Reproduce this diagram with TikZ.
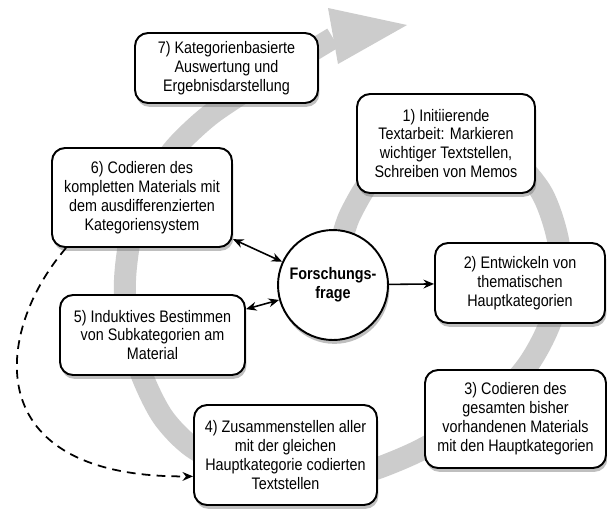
\documentclass[tikz,border=0pt]{standalone}
\usepackage{fontspec}
\setmainfont{Liberation Sans}[FakeStretch=0.86]
\usetikzlibrary{arrows.meta,shadows}

\begin{document}
\begin{tikzpicture}[x=0.02cm,y=-0.02cm,
    font=\fontsize{9.5}{10.8}\selectfont,
    schatten/.style={drop shadow={shadow xshift=0.8pt, shadow yshift=-2.2pt, opacity=0.5}},
    stepbox/.style={draw, line width=1.1pt, rounded corners=0.26cm, fill=white, align=center, inner sep=2pt, schatten},
    frageknoten/.style={draw, circle, line width=1.1pt, fill=white, align=center, minimum size=2.2cm, inner sep=0pt, font=\fontsize{9.5}{10.8}\selectfont\bfseries, schatten},
    link/.style={line width=0.9pt, -{Stealth[length=6pt,width=5pt]}},
    beide/.style={line width=0.9pt, {Stealth[length=6pt,width=5pt]}-{Stealth[length=6pt,width=5pt]}},
    band/.style={line width=0.44cm, gray!40}]

    \fill[white] (0,0) rectangle (607,508);
    \useasboundingbox (0,0) rectangle (607,508);

    % grauer Spiralpfeil
    \draw[band] plot[smooth] coordinates {(338,255) (350,215) (380,170) (440,140) (500,150) (540,190) (558,240) (560,290) (545,335) (520,375) (470,420) (410,455) (340,478) (260,470) (200,452) (165,420) (143,378) (128,330) (125,280) (132,230) (150,185) (175,148) (210,115) (255,85) (300,58) (333,38)};
    \fill[gray!40] (328,8) -- (407,25) -- (338,64) -- cycle;

    \node[stepbox, minimum width=3.66cm, minimum height=1.40cm] (s7) at (226.5,68) {7) Kategorienbasierte\\Auswertung und\\Ergebnisdarstellung};
    \node[stepbox, minimum width=3.56cm, minimum height=1.98cm] (s1) at (446,143.5) {1) Initiierende\\Textarbeit: Markieren\\wichtiger Textstellen,\\Schreiben von Memos};
    \node[stepbox, minimum width=3.60cm, minimum height=1.98cm] (s6) at (142,197.5) {6) Codieren des\\kompletten Materials mit\\dem ausdifferenzierten\\Kategoriensystem};
    \node[frageknoten] (frage) at (333,285) {Forschungs-\\frage};
    \node[stepbox, minimum width=3.40cm, minimum height=1.60cm] (s2) at (520,283) {2) Entwickeln von\\thematischen\\Hauptkategorien};
    \node[stepbox, minimum width=3.70cm, minimum height=1.60cm] (s5) at (152.5,335) {5) Induktives Bestimmen\\von Subkategorien am\\Material};
    \node[stepbox, minimum width=3.62cm, minimum height=1.96cm] (s3) at (515.5,419) {3) Codieren des\\gesamten bisher\\vorhandenen Materials\\mit den Hauptkategorien};
    \node[stepbox, minimum width=3.66cm, minimum height=2.00cm] (s4) at (285.5,455) {4) Zusammenstellen aller\\mit der gleichen\\Hauptkategorie codierten\\Textstellen};

    \draw[link] (frage) -- (s2);
    \draw[beide] (s6) -- (frage);
    \draw[beide] (s5) -- (frage);
    \draw[link, line width=1pt, dash pattern=on 5pt off 3.5pt] ([xshift=0.3cm]s6.south west) .. controls (-5,330) and (-25,478) .. (s4.193);
\end{tikzpicture}
\end{document}
